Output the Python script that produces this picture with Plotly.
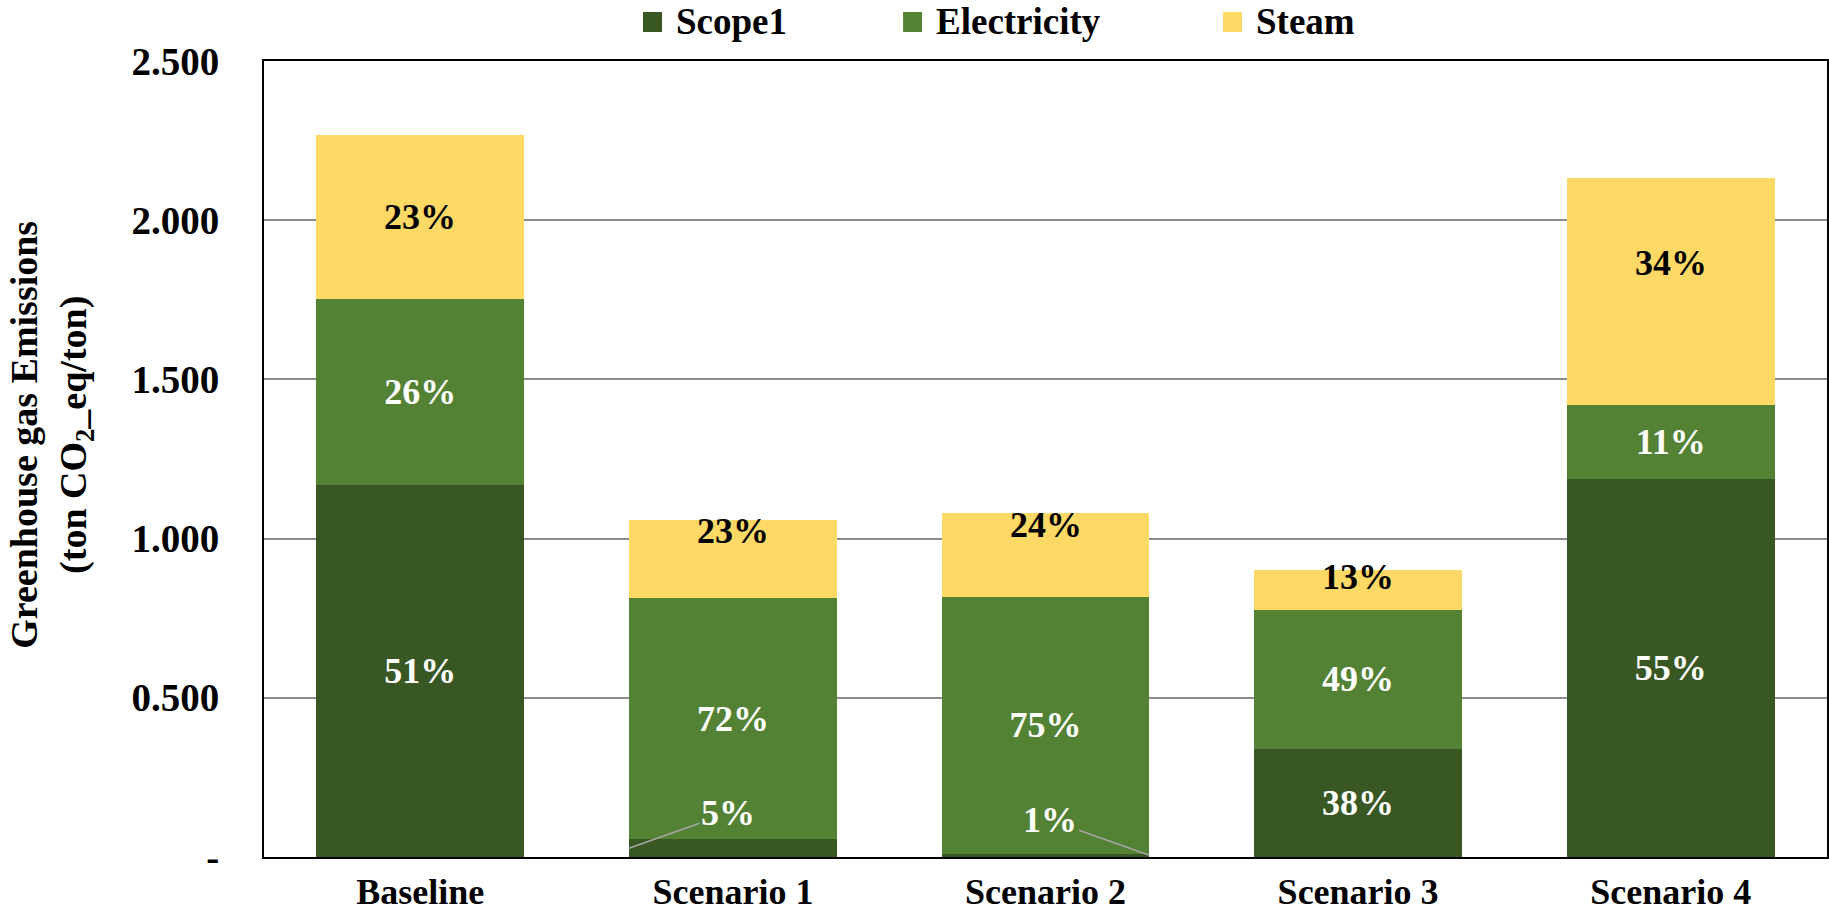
import plotly.graph_objects as go

# ---- data ----
categories = ["Baseline", "Scenario 1", "Scenario 2", "Scenario 3", "Scenario 4"]
scope1 = [1.168, 0.055, 0.011, 0.340, 1.186]
electricity = [0.585, 0.758, 0.805, 0.436, 0.234]
steam = [0.516, 0.245, 0.264, 0.124, 0.714]

scope1_labels = ["51%", "5%", "1%", "38%", "55%"]
electricity_labels = ["26%", "72%", "75%", "49%", "11%"]
steam_labels = ["23%", "23%", "24%", "13%", "34%"]

series_names = ["Scope1", "Electricity", "Steam"]

ytick_vals = [0, 0.5, 1.0, 1.5, 2.0, 2.5]
ytick_text = ["-", "0.500", "1.000", "1.500", "2.000", "2.500"]

# ---- style ----
series_colors = ["#385723", "#548235", "#FFD966"]
label_colors = ["white", "white", "black"]
FONT = "Liberation Serif, Times New Roman, serif"
BARGAP = 0.335
SMALL = 0.1                       # segments smaller than this get a callout label
steam_label_lift = [0, 28, 30, 13, 28]   # px lift of steam labels (as placed in original)
legend_text_x = [0.2623, 0.4287, 0.6334]  # paper x of legend texts
LEGEND_Y = 1.049

fig = go.Figure()
stack_vals = [scope1, electricity, steam]
stack_labels = [scope1_labels, electricity_labels, steam_labels]
for k in range(3):
    vals = stack_vals[k]
    shown = [lab if (v >= SMALL and k < 2) else "" for v, lab in zip(vals, stack_labels[k])]
    fig.add_trace(go.Bar(
        x=categories, y=vals, name=series_names[k], showlegend=False,
        marker=dict(color=series_colors[k], line=dict(width=0)),
        text=shown, texttemplate="%{text}",
        textposition="inside", insidetextanchor="middle",
        constraintext="none", textangle=0,
        textfont=dict(family=FONT, size=36, color=label_colors[k], weight="bold"),
        hoverinfo="skip",
    ))

# steam labels (centred on the segment, lifted as in the original)
for i, cat in enumerate(categories):
    base = scope1[i] + electricity[i]
    fig.add_annotation(x=cat, y=base + steam[i] / 2, xref="x", yref="y",
                       text=steam_labels[i], showarrow=False, yshift=steam_label_lift[i],
                       font=dict(family=FONT, size=36, color="black", weight="bold"))

# callout labels for tiny Scope1 segments
half = (1 - BARGAP) / 2
side_toggle = -1
for i, (v, lab) in enumerate(zip(scope1, scope1_labels)):
    if v < SMALL:
        fig.add_annotation(
            x=i + side_toggle * half, y=v / 2, xref="x", yref="y",
            text=lab, showarrow=True, arrowhead=0, arrowwidth=1.5,
            arrowcolor="#a6a6a6", ax=-side_toggle * 99, ay=-35,
            standoff=0, startstandoff=0,
            font=dict(family=FONT, size=36, color="white", weight="bold"),
        )
        side_toggle = -side_toggle

# manual legend (square swatches + bold labels)
for k in range(3):
    fig.add_shape(type="rect", xref="paper", yref="paper",
                  xsizemode="pixel", ysizemode="pixel",
                  xanchor=legend_text_x[k], yanchor=LEGEND_Y,
                  x0=-31, x1=-12, y0=-10, y1=10,
                  fillcolor=series_colors[k], line=dict(width=0))
    fig.add_annotation(x=legend_text_x[k], y=LEGEND_Y, xref="paper", yref="paper",
                       text=series_names[k], showarrow=False,
                       xanchor="left", yanchor="middle",
                       font=dict(family=FONT, size=37, color="black", weight="bold"))

# y-axis title
fig.add_annotation(x=-0.1365, y=0.53, xref="paper", yref="paper",
                   text="Greenhouse gas Emissions<br>(ton CO<sub>2</sub>_eq/ton)",
                   showarrow=False, textangle=-90, xanchor="center", yanchor="middle",
                   font=dict(family=FONT, size=38, color="black", weight="bold"))

fig.update_layout(
    width=1829, height=917,
    margin=dict(l=264, r=2, t=61, b=60, autoexpand=False),
    barmode="stack", bargap=BARGAP,
    plot_bgcolor="white", paper_bgcolor="white",
    font=dict(family=FONT, size=38, color="black", weight="bold"),
    showlegend=False,
)
fig.update_yaxes(
    range=[0, 2.5], tickvals=ytick_vals, ticktext=ytick_text,
    showgrid=True, gridcolor="#8c8c8c", gridwidth=1.5,
    showline=True, linecolor="black", linewidth=2, mirror=True,
    ticks="", ticklabelstandoff=35, zeroline=False, automargin=False,
    tickfont=dict(family=FONT, size=39, weight="bold"),
)
fig.update_xaxes(
    showline=True, linecolor="black", linewidth=2, mirror=True,
    ticks="", ticklabelstandoff=2, automargin=False,
    tickfont=dict(family=FONT, size=36, weight="bold"),
)

fig.write_html("out.html")
